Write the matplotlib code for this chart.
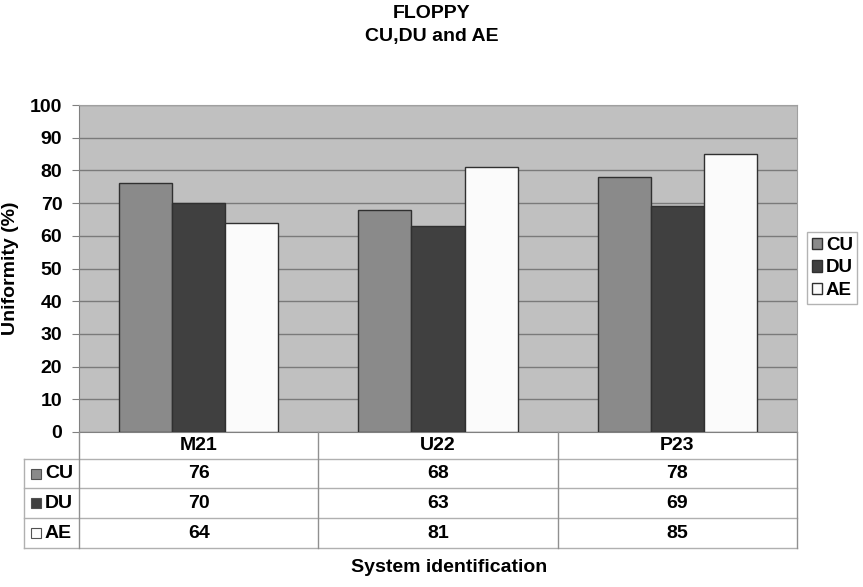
import matplotlib.pyplot as plt
from matplotlib.patches import Rectangle
import numpy as np

plt.rcParams['font.family'] = ['Liberation Sans', 'DejaVu Sans']
plt.rcParams['font.weight'] = 'bold'

systems = ["M21", "U22", "P23"]
series = ["CU", "DU", "AE"]
cu = [76, 68, 78]
du = [70, 63, 69]
ae = [64, 81, 85]
values = [cu, du, ae]
colors = ["#8a8a8a", "#404040", "#fbfbfb"]

W, H = 863, 587
fig = plt.figure(figsize=(W / 100, H / 100), dpi=100)

# plot area in pixels
x0, x1, ytop, ybot = 79, 797, 105, 432
ax = fig.add_axes([x0 / W, 1 - ybot / H, (x1 - x0) / W, (ybot - ytop) / H])
ax.set_facecolor("#c0c0c0")
ax.set_xlim(-0.5, 2.5)
ax.set_ylim(0, 100)
ax.set_yticks(np.arange(0, 101, 10))
ax.yaxis.grid(True, color="#7a7a7a", linewidth=1)
ax.set_axisbelow(True)
ax.set_xticks([])
for s in ["top", "right"]:
    ax.spines[s].set_color("#a0a0a0")
ax.spines["left"].set_color("#808080")
ax.spines["bottom"].set_color("#808080")
ax.tick_params(axis="y", labelsize=14, length=5, color="#808080", pad=7)
for t in ax.get_yticklabels():
    t.set_fontweight("bold")

bw = 0.222
x = np.arange(len(systems))
bars = []
for i, (name, vals, c) in enumerate(zip(series, values, colors)):
    b = ax.bar(x + (i - 1) * bw, vals, width=bw, color=c, edgecolor="#303030",
               linewidth=1, label=name, zorder=3)
    bars.append(b)

ax.set_ylabel("Uniformity (%)", fontsize=14, fontweight="bold", labelpad=8)

fig.text(0.5, 1 - 14 / H, "FLOPPY", ha="center", va="center", fontsize=14, fontweight="bold")
fig.text(0.5, 1 - 36 / H, "CU,DU and AE", ha="center", va="center", fontsize=14, fontweight="bold")

# legend
leg = fig.legend(handles=bars, labels=series, loc="center left",
                 bbox_to_anchor=(807 / W, 1 - 268 / H), frameon=True,
                 fontsize=13.5, handlelength=0.55, handleheight=0.55,
                 handletextpad=0.2, borderpad=0.25, labelspacing=0.3,
                 borderaxespad=0, fancybox=False)
leg.get_frame().set_edgecolor("#a0a0a0")
leg.get_frame().set_linewidth(1)

# data table drawn in pixel coordinates
tab = fig.add_axes([0, 0, 1, 1], facecolor="none")
tab.set_xlim(0, W)
tab.set_ylim(H, 0)
tab.axis("off")
lc = "#b0b0b0"
rows_y = [432, 459, 488, 518, 548]
col_x = [x0 + (x1 - x0) * k / 3 for k in range(4)]
for yy in rows_y[1:]:
    tab.plot([24, x1], [yy, yy], color=lc, lw=1)
tab.plot([24, 24], [rows_y[1], rows_y[-1]], color=lc, lw=1)
for xx in col_x:
    tab.plot([xx, xx], [rows_y[0], rows_y[-1]], color="#909090", lw=1)
for k, name in enumerate(systems):
    cx = (col_x[k] + col_x[k + 1]) / 2
    tab.text(cx, (rows_y[0] + rows_y[1]) / 2, name, ha="center", va="center",
             fontsize=14, fontweight="bold")
    for r in range(3):
        tab.text(cx, (rows_y[r + 1] + rows_y[r + 2]) / 2, str(values[r][k]),
                 ha="center", va="center", fontsize=14, fontweight="bold")
for r, name in enumerate(series):
    yc = (rows_y[r + 1] + rows_y[r + 2]) / 2
    tab.add_patch(Rectangle((31, yc - 5), 10, 10, facecolor=colors[r],
                            edgecolor="#505050", lw=0.8))
    tab.text(45, yc, name, ha="left", va="center", fontsize=14, fontweight="bold")

fig.text(449 / W, 1 - 567 / H, "System identification", ha="center", va="center",
         fontsize=14, fontweight="bold")

fig.savefig("out.png", dpi=100)
